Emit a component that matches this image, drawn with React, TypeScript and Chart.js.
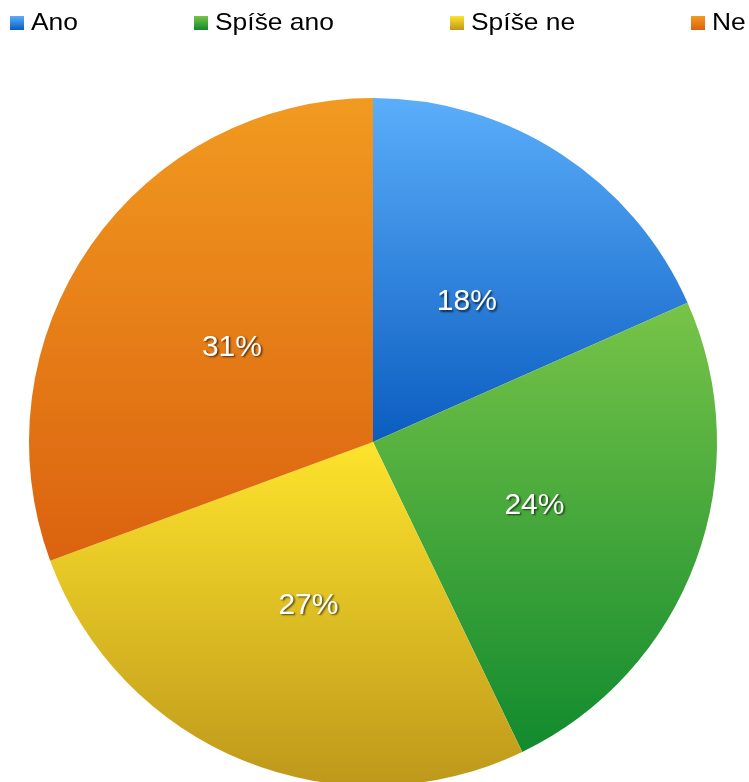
import React, { useEffect, useRef } from "react";
import { Chart, registerables } from "chart.js";

Chart.register(...registerables);

const categories = ["Ano", "Spíše ano", "Spíše ne", "Ne"];
const counts = [9, 12, 13, 15];
const topColors = ["#5aaefa", "#78c448", "#fde42c", "#f19a20"];
const bottomColors = ["#0b5cc0", "#118a2e", "#be981b", "#db620f"];
const legendX = [10, 194, 450, 691];

const W = 749;
const H = 790;

function sliceYRange(chart: any, idx: number) {
  const ca = chart.chartArea;
  const cx = (ca.left + ca.right) / 2;
  const cy = (ca.top + ca.bottom) / 2;
  const r = Math.min(ca.right - ca.left, ca.bottom - ca.top) / 2;
  const total = counts.reduce((a, b) => a + b, 0);
  let before = 0;
  for (let i = 0; i < idx; i++) before += counts[i];
  const a0 = -Math.PI / 2 + (before / total) * Math.PI * 2;
  const a1 = a0 + (counts[idx] / total) * Math.PI * 2;
  const ys = [cy, cy + r * Math.sin(a0), cy + r * Math.sin(a1)];
  for (let k = -4; k <= 8; k++) {
    const a = (k * Math.PI) / 2;
    if (a > a0 && a < a1) ys.push(cy + r * Math.sin(a));
  }
  return [Math.min(...ys), Math.max(...ys)];
}

const labelPlugin = {
  id: "pctLabels",
  afterDatasetsDraw(chart: any) {
    const ctx = chart.ctx;
    const meta = chart.getDatasetMeta(0);
    const total = counts.reduce((a, b) => a + b, 0);
    ctx.save();
    ctx.font = '30px "Liberation Sans", Arial, sans-serif';
    ctx.textAlign = "center";
    ctx.textBaseline = "middle";
    ctx.fillStyle = "#ffffff";
    ctx.shadowColor = "rgba(0,0,0,0.65)";
    ctx.shadowOffsetX = 1.5;
    ctx.shadowOffsetY = 1.5;
    ctx.shadowBlur = 2;
    meta.data.forEach((arc: any, i: number) => {
      const { x, y, startAngle, endAngle, outerRadius } = arc.getProps(
        ["x", "y", "startAngle", "endAngle", "outerRadius"],
        true
      );
      const mid = (startAngle + endAngle) / 2;
      const d = outerRadius * 0.5;
      const pct = Math.round((counts[i] / total) * 100) + "%";
      ctx.fillText(pct, x + d * Math.cos(mid), y + d * Math.sin(mid) + 4);
    });
    ctx.restore();
  },
};

export default function App() {
  const ref = useRef<HTMLCanvasElement | null>(null);

  useEffect(() => {
    if (!ref.current) return;
    const chart = new Chart(ref.current, {
      type: "pie",
      data: {
        labels: categories,
        datasets: [
          {
            data: counts,
            borderWidth: 0,
            hoverOffset: 0,
            backgroundColor: (context: any) => {
              const chart = context.chart;
              const i = context.dataIndex;
              if (!chart.chartArea || i === undefined) return topColors[i ?? 0];
              const [y0, y1] = sliceYRange(chart, i);
              const g = chart.ctx.createLinearGradient(0, y0, 0, y1);
              g.addColorStop(0, topColors[i]);
              g.addColorStop(1, bottomColors[i]);
              return g;
            },
          },
        ],
      },
      options: {
        responsive: false,
        animation: false,
        events: [],
        layout: { padding: { top: 98, left: 29, right: 32, bottom: 4 } },
        plugins: {
          legend: { display: false },
          tooltip: { enabled: false },
        },
      },
      plugins: [labelPlugin],
    });
    return () => chart.destroy();
  }, []);

  return (
    <div
      style={{
        position: "fixed",
        left: 0,
        top: 0,
        width: W,
        height: 782,
        overflow: "hidden",
        background: "#ffffff",
      }}
    >
      <canvas
        ref={ref}
        width={W}
        height={H}
        style={{ position: "absolute", left: 0, top: 0, width: W, height: H }}
      />
      {categories.map((c, i) => (
        <div
          key={c}
          style={{
            position: "absolute",
            left: legendX[i],
            top: 10,
            display: "flex",
            alignItems: "flex-start",
            whiteSpace: "nowrap",
          }}
        >
          <div
            style={{
              width: 14,
              height: 14,
              marginTop: 6,
              background: `linear-gradient(${topColors[i]}, ${bottomColors[i]})`,
            }}
          />
          <div
            style={{
              marginLeft: 7,
              fontFamily: '"Liberation Sans", Arial, sans-serif',
              fontSize: 24,
              lineHeight: "24px",
              color: "#000",
              transform: "scaleX(1.1)",
              transformOrigin: "left center",
            }}
          >
            {c}
          </div>
        </div>
      ))}
    </div>
  );
}
